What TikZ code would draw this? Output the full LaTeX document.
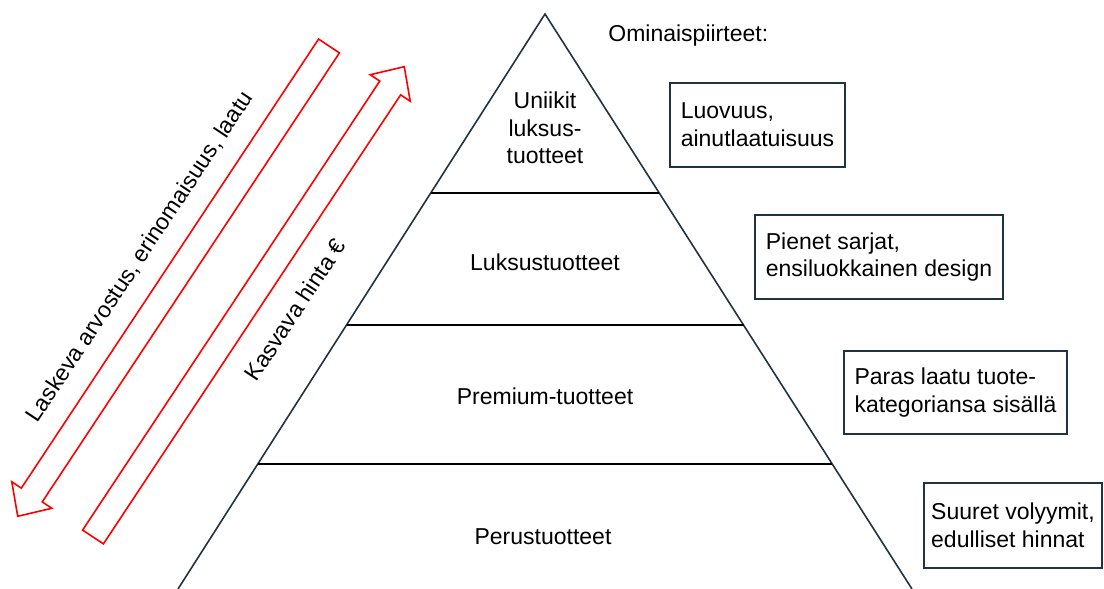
\documentclass[tikz,border=0pt]{standalone}
\usepackage{fontspec}
\setmainfont{Liberation Sans}
\usepackage{xcolor}
\usepackage{tikz}
\definecolor{pyrline}{HTML}{1E3444}
\definecolor{arrowred}{HTML}{FF0000}

\tikzset{
  hollowarrow/.style={draw=arrowred, line width=0.8pt, line join=miter},
  featbox/.style={draw=pyrline, line width=1pt, align=left, inner sep=0pt}
}

\begin{document}
\begin{tikzpicture}[x=0.5pt, y=0.5pt, font=\fontsize{11.5}{13.85}\selectfont]
    \useasboundingbox (0,0) rectangle (1104,589);

    % Pyramid outline
    \coordinate (apex) at (545,575);
    \coordinate (baseL) at (178,0);
    \coordinate (baseR) at (912,0);
    \draw[pyrline, line width=0.8pt] (baseL) -- (apex) -- (baseR);

    % Layer borders
    \draw[line width=0.8pt] (430.7,396) -- (659.3,396);
    \draw[line width=0.8pt] (346.5,264) -- (743.5,264);
    \draw[line width=0.8pt] (257.8,125) -- (832.2,125);

    % Layer names
    \node[align=center] (uniikit) at (545,461) {Uniikit\\luksus-\\tuotteet};
    \node (luksus) at (545,327) {Luksustuotteet};
    \node (premium) at (545,193) {Premium-tuotteet};
    \node (perus) at (543,52) {Perustuotteet};

    % Features
    \node[anchor=base west, inner xsep=0pt] (omin) at (608,547) {Ominaispiirteet:};
    \node[featbox, minimum width=87.5pt, minimum height=42pt] (f1) at (757.5,464) {Luovuus,\\ainutlaatuisuus};
    \node[featbox, minimum width=124pt, minimum height=42pt] (f2) at (879,332) {Pienet sarjat,\\ensiluokkainen design};
    \node[featbox, minimum width=111.5pt, minimum height=41.5pt] (f3) at (955.5,196.5) {Paras laatu tuote-\\kategoriansa sisällä};
    \node[featbox, minimum width=89pt, minimum height=42.5pt] (f4) at (1013,63.5) {Suuret volyymit,\\edulliset hinnat};

    % Arrow down: value
    \draw[hollowarrow, shift={(329,543)}, rotate=236.5]
        (0,-12.5) -- (538.5,-12.5) -- (538.5,-24) -- (564,0) -- (538.5,24) -- (538.5,12.5) -- (0,12.5) -- cycle;
    \node[rotate=56.5] (arvo) at (140,332) {Laskeva arvostus, erinomaisuus, laatu};

    % Arrow up: price
    \draw[hollowarrow, shift={(93,52)}, rotate=56.5]
        (0,-12.5) -- (538.5,-12.5) -- (538.5,-24) -- (564,0) -- (538.5,24) -- (538.5,12.5) -- (0,12.5) -- cycle;
    \node[rotate=56.5] (hinta) at (295,279) {Kasvava hinta €};
\end{tikzpicture}
\end{document}
